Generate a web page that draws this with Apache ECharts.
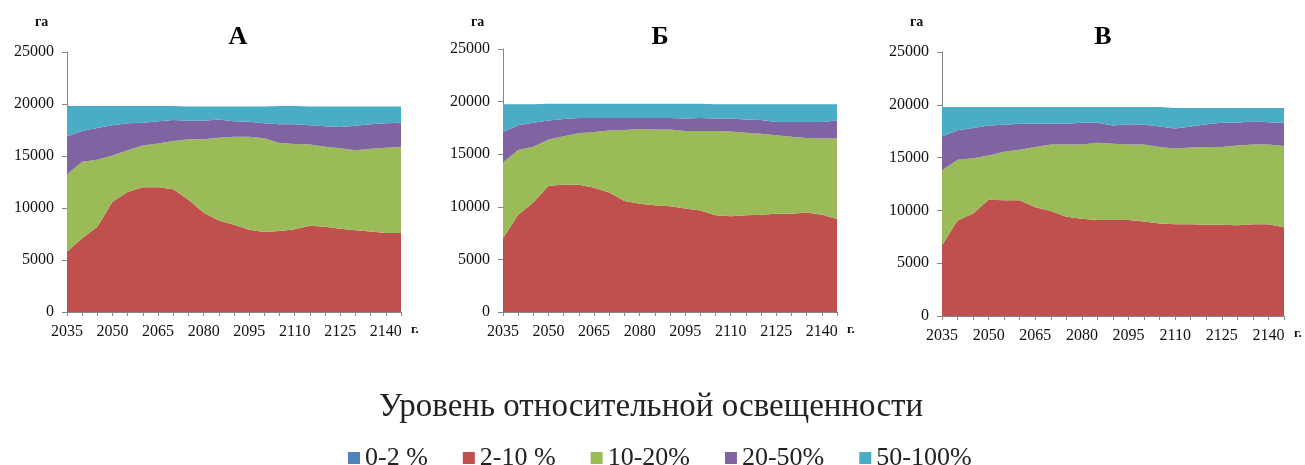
<!DOCTYPE html>
<html>
<head>
<meta charset="utf-8">
<script src="https://cdn.jsdelivr.net/npm/echarts@6/dist/echarts.min.js"></script>
<style>
html,body{margin:0;padding:0;background:#fff;}
#c{width:1305px;height:465px;}
</style>
</head>
<body>
<div id="c"></div>
<script>
// Years (x categories), every 5 years
const years = ['2035','2040','2045','2050','2055','2060','2065','2070','2075','2080','2085','2090','2095','2100','2105','2110','2115','2120','2125','2130','2135','2140','2145'];
const seriesNames = ['0-2 %', '2-10 %', '10-20%', '20-50%', '50-100%'];
const panelTitles = ['А', 'Б', 'В'];
const yTicks = [0, 5000, 10000, 15000, 20000, 25000];

// Panel А (ha per illumination class)
const a_0_2    = [0,0,0,0,0,0,0,0,0,0,0,0,0,0,0,0,0,0,0,0,0,0,0];
const a_2_10   = [5800,7100,8200,10600,11550,12000,12000,11800,10800,9550,8800,8400,7900,7700,7800,7950,8300,8200,8000,7850,7750,7600,7600];
const a_10_20  = [7450,7350,6450,4450,4000,4000,4200,4650,5800,7050,7950,8450,8950,9000,8450,8200,7800,7700,7750,7700,7950,8200,8300];
const a_20_50  = [3650,2950,3050,2900,2600,2200,2150,2000,1800,1800,1750,1500,1450,1450,1800,1900,1850,1950,2050,2350,2350,2350,2300];
const a_50_100 = [2900,2400,2100,1850,1650,1600,1450,1350,1350,1350,1250,1400,1450,1600,1750,1750,1800,1900,1950,1850,1700,1600,1550];

// Panel Б
const b_0_2    = [0,0,0,0,0,0,0,0,0,0,0,0,0,0,0,0,0,0,0,0,0,0,0];
const b_2_10   = [7000,9250,10400,12000,12100,12100,11800,11350,10550,10300,10150,10050,9850,9650,9200,9100,9200,9250,9350,9350,9450,9250,8850];
const b_10_20  = [7200,6150,5300,4400,4600,4900,5300,5900,6750,7100,7200,7300,7350,7550,8000,8050,7850,7700,7450,7300,7100,7250,7650];
const b_20_50  = [2900,2350,2300,1800,1650,1450,1350,1200,1150,1050,1100,1100,1200,1250,1200,1250,1250,1300,1250,1400,1500,1550,1700];
const b_50_100 = [2650,2000,1750,1600,1450,1350,1350,1350,1350,1350,1350,1350,1400,1350,1350,1350,1450,1500,1700,1700,1700,1700,1550];

// Panel В
const v_0_2    = [0,0,0,0,0,0,0,0,0,0,0,0,0,0,0,0,0,0,0,0,0,0,0];
const v_2_10   = [6700,9050,9700,11000,10950,10950,10300,9950,9400,9200,9100,9100,9100,8950,8750,8700,8700,8650,8650,8600,8700,8700,8400];
const v_10_20  = [7100,5750,5250,4200,4600,4800,5700,6300,6850,7050,7300,7200,7150,7300,7250,7150,7250,7350,7350,7550,7550,7550,7700];
const v_20_50  = [3200,2800,2850,2850,2550,2450,2200,1950,1950,2050,1900,1750,1900,1850,1950,1900,2000,2150,2300,2150,2200,2100,2200];
const v_50_100 = [2800,2200,2000,1750,1700,1600,1600,1600,1600,1500,1500,1750,1650,1700,1850,1950,1750,1550,1400,1400,1250,1350,1400];

const panels = [
  [a_0_2, a_2_10, a_10_20, a_20_50, a_50_100],
  [b_0_2, b_2_10, b_10_20, b_20_50, b_50_100],
  [v_0_2, v_2_10, v_10_20, v_20_50, v_50_100]
];

const colors = ['#4F81BD', '#C0504D', '#9BBB59', '#8064A2', '#4BACC6'];
const FONT = "'Liberation Serif', 'Times New Roman', serif";

const grids = [
  {left: 67,  top: 52, width: 334, height: 260},
  {left: 503, top: 49, width: 334, height: 263},
  {left: 942, top: 52, width: 342, height: 264}
];

const xAxes = [], yAxes = [], series = [], graphics = [];
grids.forEach((g, i) => {
  xAxes.push({
    gridIndex: i, type: 'category', boundaryGap: false, data: years,
    axisLine: {lineStyle: {color: '#868686', width: 1}},
    axisTick: {show: true, interval: 0, length: 4, lineStyle: {color: '#868686'}},
    axisLabel: {interval: 2, color: '#111', fontFamily: FONT, fontSize: 16, margin: 12},
    splitLine: {show: false}
  });
  yAxes.push({
    gridIndex: i, type: 'value', min: yTicks[0], max: yTicks[yTicks.length - 1], interval: 5000,
    axisLine: {show: true, lineStyle: {color: '#868686', width: 1}},
    axisTick: {show: true, length: 5, lineStyle: {color: '#868686'}},
    axisLabel: {color: '#111', fontFamily: FONT, fontSize: 16, margin: 13, formatter: v => String(v)},
    splitLine: {show: false}
  });
  panels[i].forEach((vals, k) => {
    series.push({
      name: seriesNames[k], type: 'line', xAxisIndex: i, yAxisIndex: i,
      stack: 'p' + i, data: vals, symbol: 'none', smooth: false,
      lineStyle: {width: 0}, areaStyle: {color: colors[k], opacity: 1},
      itemStyle: {color: colors[k]}, emphasis: {disabled: true}
    });
  });
  // unit labels
  graphics.push({type: 'text', left: g.left - 32, top: 15,
    style: {text: 'га', font: 'bold 14px ' + FONT, fill: '#111'}});
  graphics.push({type: 'text', left: g.left + g.width + 10, top: g.top + g.height + 11,
    style: {text: 'г.', font: 'bold 13px ' + FONT, fill: '#111'}});
});

const titleX = [233, 655, 1098];
const titles = panelTitles.map((t, i) => ({
  text: t, left: titleX[i], top: 19, textAlign: 'center',
  textStyle: {fontFamily: FONT, fontSize: 26, fontWeight: 'bold', color: '#000'}
}));
titles.push({
  text: 'Уровень относительной освещенности', left: 646, top: 386, textAlign: 'center',
  textStyle: {fontFamily: FONT, fontSize: 33, fontWeight: 'normal', color: '#222'}
});

const chart = echarts.init(document.getElementById('c'), null, {renderer: 'canvas'});
chart.setOption({
  animation: false,
  backgroundColor: '#fff',
  title: titles,
  grid: grids,
  xAxis: xAxes,
  yAxis: yAxes,
  series: series,
  legend: {
    data: seriesNames, left: 343, top: 440, icon: 'rect',
    itemWidth: 12, itemHeight: 12, itemGap: 35,
    textStyle: {fontFamily: FONT, fontSize: 26, color: '#222'}
  },
  graphic: graphics
});
</script>
</body>
</html>
